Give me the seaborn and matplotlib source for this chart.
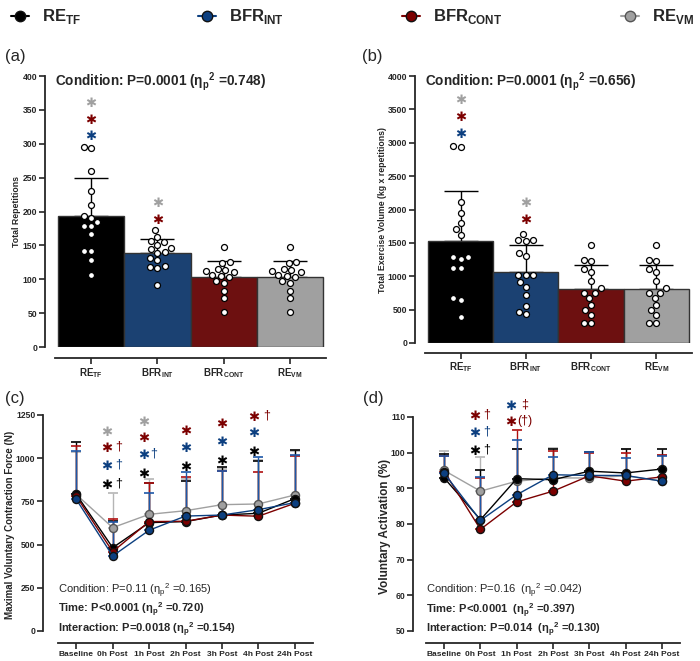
import numpy as np
import pandas as pd
import seaborn as sns
import matplotlib.pyplot as plt
import matplotlib.transforms as mtrans
from matplotlib import font_manager
from matplotlib.lines import Line2D

# conditions and colours
conditions = ['RE_TF', 'BFR_INT', 'BFR_CONT', 'RE_VM']
cond_labels = [r'RE$_\mathregular{TF}$', r'BFR$_\mathregular{INT}$',
               r'BFR$_\mathregular{CONT}$', r'RE$_\mathregular{VM}$']
colors = {'RE_TF': '#000000', 'BFR_INT': '#0c3f80', 'BFR_CONT': '#7c0000', 'RE_VM': '#a0a0a0'}
edge_colors = {'RE_TF': '#111111', 'BFR_INT': '#111111', 'BFR_CONT': '#111111', 'RE_VM': '#555555'}
err_colors = {'RE_TF': '#000000', 'BFR_INT': '#1d58a8', 'BFR_CONT': '#b01010', 'RE_VM': '#b5b5b5'}

# (a) total repetitions, individual participants
reps_re_tf = [294, 295, 260, 231, 209, 193, 190, 184, 178, 178, 167, 141, 141, 128, 106]
reps_bfr_int = [173, 163, 156, 155, 151, 146, 144, 140, 139, 131, 128, 120, 118, 117, 91]
reps_bfr_cont = [147, 125, 124, 115, 114, 112, 110, 106, 105, 103, 97, 95, 83, 72, 51]
reps_re_vm = [147, 125, 124, 115, 114, 112, 110, 106, 105, 103, 97, 95, 83, 72, 51]

# (b) total exercise volume (kg x repetitions)
vol_re_tf = [2940, 2950, 2112, 1943, 1793, 1703, 1618, 1293, 1253, 1288, 1129, 1119, 674, 639, 385]
vol_bfr_int = [1628, 1528, 1538, 1548, 1353, 1303, 1014, 1014, 1014, 909, 839, 719, 554, 434, 469]
vol_bfr_cont = [1468, 1233, 1243, 1069, 1109, 924, 819, 749, 754, 679, 574, 494, 424, 295, 300]
vol_re_vm = [1468, 1233, 1243, 1069, 1109, 924, 819, 749, 754, 679, 574, 494, 424, 295, 300]

# time course
times = ['Baseline', '0h Post', '1h Post', '2h Post', '3h Post', '4h Post', '24h Post']

# (c) MVC force, mean and SD
mvc_mean = {
    'RE_TF': [791, 482, 627, 633, 671, 681, 766],
    'BFR_INT': [762, 434, 583, 665, 671, 702, 743],
    'BFR_CONT': [780, 459, 633, 635, 671, 664, 739],
    'RE_VM': [790, 598, 675, 696, 731, 735, 787],
}
mvc_sd = {
    'RE_TF': [301, 155, 228, 237, 276, 302, 281],
    'BFR_INT': [278, 196, 214, 253, 257, 303, 277],
    'BFR_CONT': [293, 189, 222, 254, 257, 258, 276],
    'RE_VM': [248, 202, 203, 184, 204, 255, 253],
}

# (d) voluntary activation, mean and SD
va_mean = {
    'RE_TF': [92.9, 81.2, 92.7, 92.4, 94.8, 94.3, 95.4],
    'BFR_INT': [94.2, 81.0, 88.2, 93.8, 93.6, 93.6, 92.0],
    'BFR_CONT': [94.7, 78.5, 86.2, 89.2, 93.5, 92.0, 93.2],
    'RE_VM': [95.0, 89.2, 92.0, 92.9, 92.9, 93.5, 92.0],
}
va_sd = {
    'RE_TF': [6.8, 14.0, 8.3, 8.6, 5.4, 6.7, 5.6],
    'BFR_INT': [4.8, 12.2, 15.3, 5.0, 6.6, 4.9, 7.0],
    'BFR_CONT': [4.3, 14.5, 20.2, 11.3, 6.3, 8.0, 6.1],
    'RE_VM': [5.5, 9.6, 9.0, 8.4, 7.3, 7.5, 7.3],
}

# significance marks: (column, y, star colour, extra symbol, symbol colour)
reps_marks = [(0, 362, 'RE_VM', '', ''), (0, 338, 'BFR_CONT', '', ''), (0, 314, 'BFR_INT', '', ''),
              (1, 215, 'RE_VM', '', ''), (1, 190, 'BFR_CONT', '', '')]
vol_marks = [(0, 3660, 'RE_VM', '', ''), (0, 3410, 'BFR_CONT', '', ''), (0, 3160, 'BFR_INT', '', ''),
             (1, 2120, 'RE_VM', '', ''), (1, 1870, 'BFR_CONT', '', '')]
mvc_marks = [(1, 1161, 'RE_VM', '', ''), (1, 1065, 'BFR_CONT', '†', 'BFR_CONT'),
             (1, 964, 'BFR_INT', '†', 'BFR_INT'), (1, 856, 'RE_TF', '†', 'RE_TF'),
             (2, 1219, 'RE_VM', '', ''), (2, 1123, 'BFR_CONT', '', ''),
             (2, 1026, 'BFR_INT', '†', 'BFR_INT'), (2, 916, 'RE_TF', '', ''),
             (3, 1167, 'BFR_CONT', '', ''), (3, 1069, 'BFR_INT', '', ''), (3, 959, 'RE_TF', '', ''),
             (4, 1204, 'BFR_CONT', '', ''), (4, 1103, 'BFR_INT', '', ''), (4, 993, 'RE_TF', '', ''),
             (5, 1248, 'BFR_CONT', '†', 'BFR_CONT'), (5, 1152, 'BFR_INT', '', ''), (5, 1045, 'RE_TF', '', '')]
va_marks = [(1, 110.6, 'BFR_CONT', '†', 'BFR_CONT'), (1, 106.0, 'BFR_INT', '†', 'BFR_INT'),
            (1, 100.8, 'RE_TF', '†', 'RE_TF'),
            (2, 113.5, 'BFR_INT', '‡', 'BFR_CONT'), (2, 108.9, 'BFR_CONT', '(†)', 'BFR_CONT')]

# fonts
names = {f.name for f in font_manager.fontManager.ttflist}
base_font = 'Liberation Sans Narrow' if 'Liberation Sans Narrow' in names else 'Liberation Sans'
sns.set_style('ticks')
plt.rcParams['font.family'] = [base_font, 'DejaVu Sans']
plt.rcParams['font.weight'] = 'bold'
plt.rcParams['axes.labelweight'] = 'bold'
plt.rcParams['axes.linewidth'] = 1.3
plt.rcParams['mathtext.fontset'] = 'custom'
plt.rcParams['mathtext.rm'] = base_font
plt.rcParams['mathtext.bf'] = base_font + ':bold'

fig = plt.figure(figsize=(7, 6.61), dpi=100)
ax_a = fig.add_axes([0.0786, 0.4750, 0.3871, 0.4100])
ax_b = fig.add_axes([0.6071, 0.4811, 0.3814, 0.4039])
ax_c = fig.add_axes([0.0829, 0.0454, 0.3643, 0.3268])
ax_d = fig.add_axes([0.6086, 0.0454, 0.3629, 0.3238])


def style_axis(ax, left_off, bottom_off, xsize):
    sns.despine(ax=ax)
    ax.spines['left'].set_position(('outward', left_off))
    ax.spines['bottom'].set_position(('outward', bottom_off))
    ax.tick_params(axis='both', length=4, width=1.2, pad=1.5)
    ax.tick_params(axis='y', labelsize=6.2)
    ax.tick_params(axis='x', labelsize=xsize)
    for t in ax.get_xticklabels() + ax.get_yticklabels():
        t.set_fontweight('bold')
    ax.set_xlabel('')


def add_stars(ax, marks, dx_star, dx_sym, size=9.5):
    star_shift = mtrans.offset_copy(ax.transData, fig=fig, x=0, y=-0.15 * size, units='points')
    for col, y, c, sym, sc in marks:
        ax.text(col + dx_star.get(col, 0), y, '✱', color=colors[c], fontsize=size,
                family='DejaVu Sans', ha='center', va='center',
                transform=star_shift, clip_on=False)
        if sym:
            ax.text(col + dx_sym.get(col, 0.2), y, sym, color=colors[sc], fontsize=9,
                    fontweight='normal', ha='center', va='center', clip_on=False)


eta = r'η$_\mathregular{p}$$^\mathregular{2}$'


def bar_panel(ax, values, ylim, step, ylabel, label_x, title, marks):
    df = pd.DataFrame({'cond': np.repeat(conditions, [len(v) for v in values]),
                       'value': np.concatenate(values)})
    sns.barplot(data=df, x='cond', y='value', hue='cond', order=conditions, palette=colors,
                errorbar=None, width=1.0, edgecolor='#333333', linewidth=1, legend=False,
                ax=ax, zorder=1)
    stats = df.groupby('cond')['value'].agg(['mean', 'std']).reindex(conditions)
    ax.errorbar(np.arange(4), stats['mean'], yerr=[np.zeros(4), stats['std']], fmt='none',
                ecolor='black', elinewidth=1, capsize=12, capthick=1, zorder=0.5)
    sns.swarmplot(data=df, x='cond', y='value', order=conditions, color='white',
                  edgecolor='black', linewidth=0.9, size=4.3, ax=ax, zorder=3)
    ax.set_xlim(-0.545, 3.545)
    ax.set_ylim(*ylim)
    ax.set_yticks(np.arange(ylim[0], ylim[1] + 1, step))
    ax.set_xticks(range(4))
    ax.set_xticklabels(cond_labels)
    ax.set_ylabel(ylabel, fontsize=6.3)
    ax.yaxis.set_label_coords(label_x, 0.5)
    ax.text(0.0, 0.978, title, transform=ax.transAxes, fontsize=9.8, fontweight='bold',
            ha='left', va='center')
    add_stars(ax, marks, {}, {})


bar_panel(ax_a, [reps_re_tf, reps_bfr_int, reps_bfr_cont, reps_re_vm], (0, 400), 50,
          'Total Repetitions', -0.125, 'Condition: P=0.0001 (' + eta + ' =0.748)', reps_marks)
style_axis(ax_a, 7.2, 8, 7)
bar_panel(ax_b, [vol_re_tf, vol_bfr_int, vol_bfr_cont, vol_re_vm], (0, 4000), 500,
          'Total Exercise Volume (kg x repetitions)', -0.142,
          'Condition: P=0.0001 (' + eta + ' =0.656)', vol_marks)
style_axis(ax_b, 7.2, 7.2, 7)


def line_panel(ax, means, sds, ylim, step, ylabel, label_x, label_size, stats_lines, marks,
               dx_star, dx_sym):
    x = np.arange(len(times))
    for c in ['RE_VM', 'RE_TF', 'BFR_CONT', 'BFR_INT']:
        ax.errorbar(x, means[c], yerr=[np.zeros(len(x)), sds[c]], fmt='none',
                    ecolor=err_colors[c], elinewidth=1, capsize=3.6, capthick=1.2, zorder=1)
    for i, c in enumerate(['RE_VM', 'RE_TF', 'BFR_CONT', 'BFR_INT']):
        sns.lineplot(x=x, y=means[c], color=colors[c], marker='o', markersize=5.8,
                     markeredgecolor=edge_colors[c], markeredgewidth=1, linewidth=1,
                     ax=ax, zorder=3 + i)
    ax.set_xlim(-0.5, 6.5)
    ax.set_ylim(*ylim)
    ax.set_yticks(np.arange(ylim[0], ylim[1] + 0.1, step))
    ax.set_xticks(x)
    ax.set_xticklabels(times)
    ax.set_ylabel(ylabel, fontsize=label_size)
    ax.yaxis.set_label_coords(label_x, 0.49)
    for (txt, weight), yy in zip(stats_lines, [0.185, 0.096, 0.005]):
        ax.text(0.0, yy, txt, transform=ax.transAxes, fontsize=8.0, fontweight=weight,
                ha='left', va='center')
    add_stars(ax, marks, dx_star, dx_sym)


line_panel(ax_c, mvc_mean, mvc_sd, (0, 1250), 250, 'Maximal Voluntary Contraction Force (N)', -0.168, 7,
           [('Condition: P=0.11 (' + eta + ' =0.165)', 'normal'),
            ('Time: P<0.0001 (' + eta + ' =0.720)', 'bold'),
            ('Interaction: P=0.0018 (' + eta + ' =0.154)', 'bold')],
           mvc_marks, {1: -0.16, 2: -0.15, 5: -0.13}, {1: 0.17, 2: 0.12, 5: 0.22})
style_axis(ax_c, 10.8, 8.6, 6)
line_panel(ax_d, va_mean, va_sd, (50, 110), 10, 'Voluntary Activation (%)', -0.138, 8.5,
           [('Condition: P=0.16  (' + eta + ' =0.042)', 'normal'),
            ('Time: P<0.0001  (' + eta + ' =0.397)', 'bold'),
            ('Interaction: P=0.014  (' + eta + ' =0.130)', 'bold')],
           va_marks, {1: -0.16, 2: -0.16}, {1: 0.16, 2: 0.22})
style_axis(ax_d, 9.4, 8.6, 6)

# panel letters
for px, py, lab in [(5, 57, '(a)'), (362, 57, '(b)'), (5, 398, '(c)'), (363, 399, '(d)')]:
    fig.text(px / 700, 1 - py / 661, lab, fontsize=12, fontweight='normal', ha='left', va='center')

# legend across the top
for c, lab, mx in zip(conditions, cond_labels, [20, 207, 411, 630]):
    h = Line2D([], [], color=colors[c], marker='o', markersize=7.5, markeredgecolor=edge_colors[c],
               markeredgewidth=1, linewidth=1.5)
    fig.legend(handles=[h], labels=[lab], loc='center left', bbox_to_anchor=((mx - 9) / 700, 1 - 17 / 661),
               frameon=False, borderpad=0, borderaxespad=0, handlelength=1.1, handletextpad=0.75,
               prop={'size': 12, 'weight': 'bold'})

fig.savefig('out.png', dpi=100)
